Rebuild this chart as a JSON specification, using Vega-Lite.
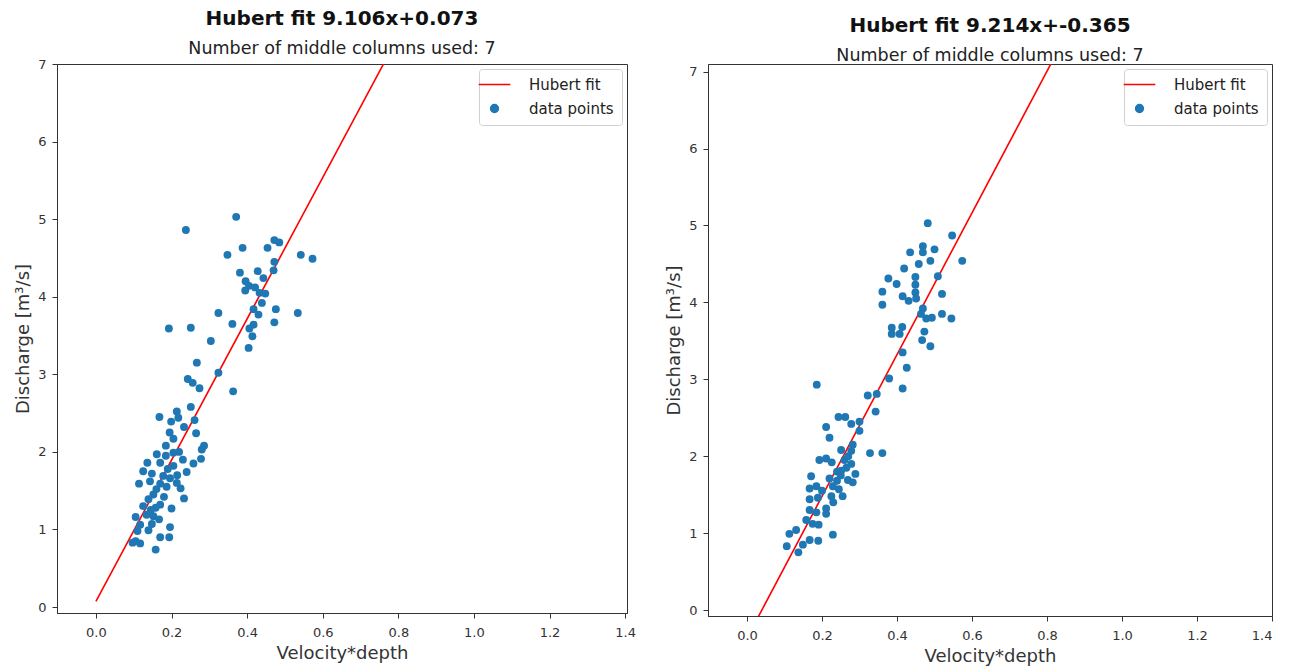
{
  "$schema": "https://vega.github.io/schema/vega-lite/v6.json",
  "background": "white",
  "padding": {"top": 8, "left": 14, "right": 5, "bottom": 0},
  "spacing": 29,
  "datasets": {
    "left_pts": [
      {"x":0.371,"y":5.03},{"x":0.238,"y":4.86},{"x":0.472,"y":4.73},{"x":0.485,"y":4.70},{"x":0.388,"y":4.63},{"x":0.454,"y":4.63},{"x":0.348,"y":4.54},{"x":0.542,"y":4.54},{"x":0.573,"y":4.49},{"x":0.472,"y":4.45},
      {"x":0.381,"y":4.31},{"x":0.428,"y":4.33},{"x":0.470,"y":4.34},{"x":0.443,"y":4.24},{"x":0.396,"y":4.20},{"x":0.405,"y":4.14},{"x":0.395,"y":4.08},{"x":0.421,"y":4.12},{"x":0.433,"y":4.05},{"x":0.448,"y":4.04},
      {"x":0.439,"y":3.92},{"x":0.417,"y":3.84},{"x":0.476,"y":3.84},{"x":0.430,"y":3.77},{"x":0.534,"y":3.79},{"x":0.324,"y":3.79},{"x":0.361,"y":3.65},{"x":0.417,"y":3.64},{"x":0.472,"y":3.67},{"x":0.406,"y":3.59},
      {"x":0.414,"y":3.49},{"x":0.193,"y":3.59},{"x":0.251,"y":3.60},{"x":0.304,"y":3.43},{"x":0.404,"y":3.34},{"x":0.267,"y":3.15},{"x":0.324,"y":3.02},{"x":0.243,"y":2.94},{"x":0.256,"y":2.89},{"x":0.274,"y":2.82},
      {"x":0.363,"y":2.78},{"x":0.251,"y":2.58},{"x":0.214,"y":2.52},{"x":0.168,"y":2.45},{"x":0.199,"y":2.39},{"x":0.218,"y":2.44},{"x":0.261,"y":2.41},{"x":0.233,"y":2.32},{"x":0.265,"y":2.24},{"x":0.205,"y":2.17},
      {"x":0.185,"y":2.08},{"x":0.286,"y":2.08},{"x":0.280,"y":2.03},{"x":0.161,"y":1.97},{"x":0.185,"y":1.95},{"x":0.205,"y":1.99},{"x":0.278,"y":1.91},{"x":0.258,"y":1.85},{"x":0.136,"y":1.86},{"x":0.170,"y":1.86},
      {"x":0.205,"y":1.82},{"x":0.125,"y":1.75},{"x":0.240,"y":1.74},{"x":0.148,"y":1.72},{"x":0.178,"y":1.69},{"x":0.196,"y":1.66},{"x":0.114,"y":1.59},{"x":0.143,"y":1.62},{"x":0.170,"y":1.59},{"x":0.187,"y":1.55},
      {"x":0.214,"y":1.60},{"x":0.224,"y":1.53},{"x":0.233,"y":1.40},{"x":0.152,"y":1.45},{"x":0.139,"y":1.39},{"x":0.170,"y":1.32},{"x":0.158,"y":1.28},{"x":0.200,"y":1.27},{"x":0.105,"y":1.16},{"x":0.134,"y":1.19},
      {"x":0.152,"y":1.17},{"x":0.167,"y":1.13},{"x":0.117,"y":1.06},{"x":0.148,"y":1.07},{"x":0.196,"y":1.03},{"x":0.139,"y":0.99},{"x":0.110,"y":0.98},{"x":0.170,"y":0.90},{"x":0.194,"y":0.90},{"x":0.097,"y":0.83},
      {"x":0.117,"y":0.82},{"x":0.158,"y":0.74},{"x":0.190,"y":1.78},{"x":0.215,"y":1.70},{"x":0.160,"y":1.52},{"x":0.125,"y":1.30},{"x":0.180,"y":1.42},{"x":0.230,"y":1.90},{"x":0.105,"y":0.85},{"x":0.145,"y":1.25},
      {"x":0.220,"y":2.00},{"x":0.195,"y":2.25}
    ],
    "right_pts": [
      {"x":0.482,"y":5.03},{"x":0.547,"y":4.87},{"x":0.435,"y":4.65},{"x":0.469,"y":4.73},{"x":0.469,"y":4.65},{"x":0.500,"y":4.69},{"x":0.458,"y":4.50},{"x":0.489,"y":4.54},{"x":0.574,"y":4.54},{"x":0.419,"y":4.44},
      {"x":0.377,"y":4.31},{"x":0.449,"y":4.33},{"x":0.509,"y":4.34},{"x":0.399,"y":4.24},{"x":0.449,"y":4.23},{"x":0.361,"y":4.14},{"x":0.415,"y":4.08},{"x":0.449,"y":4.13},{"x":0.451,"y":4.05},{"x":0.431,"y":4.02},
      {"x":0.520,"y":4.11},{"x":0.361,"y":3.97},{"x":0.469,"y":3.92},{"x":0.464,"y":3.85},{"x":0.478,"y":3.79},{"x":0.493,"y":3.80},{"x":0.520,"y":3.85},{"x":0.545,"y":3.79},{"x":0.386,"y":3.67},{"x":0.414,"y":3.68},
      {"x":0.386,"y":3.59},{"x":0.407,"y":3.59},{"x":0.473,"y":3.62},{"x":0.467,"y":3.51},{"x":0.489,"y":3.43},{"x":0.415,"y":3.35},{"x":0.426,"y":3.15},{"x":0.379,"y":3.01},{"x":0.415,"y":2.88},{"x":0.186,"y":2.93},
      {"x":0.322,"y":2.79},{"x":0.346,"y":2.81},{"x":0.343,"y":2.58},{"x":0.244,"y":2.51},{"x":0.262,"y":2.51},{"x":0.278,"y":2.42},{"x":0.300,"y":2.45},{"x":0.211,"y":2.38},{"x":0.300,"y":2.33},{"x":0.220,"y":2.24},
      {"x":0.282,"y":2.15},{"x":0.251,"y":2.08},{"x":0.328,"y":2.04},{"x":0.361,"y":2.04},{"x":0.278,"y":2.07},{"x":0.193,"y":1.95},{"x":0.211,"y":1.97},{"x":0.226,"y":1.92},{"x":0.278,"y":1.90},{"x":0.251,"y":1.81},
      {"x":0.265,"y":1.85},{"x":0.289,"y":1.77},{"x":0.171,"y":1.74},{"x":0.220,"y":1.71},{"x":0.240,"y":1.68},{"x":0.269,"y":1.69},{"x":0.282,"y":1.66},{"x":0.167,"y":1.58},{"x":0.185,"y":1.61},{"x":0.229,"y":1.61},
      {"x":0.245,"y":1.57},{"x":0.255,"y":1.48},{"x":0.225,"y":1.48},{"x":0.167,"y":1.44},{"x":0.189,"y":1.46},{"x":0.211,"y":1.32},{"x":0.211,"y":1.25},{"x":0.167,"y":1.30},{"x":0.185,"y":1.27},{"x":0.158,"y":1.17},
      {"x":0.175,"y":1.12},{"x":0.191,"y":1.11},{"x":0.113,"y":0.99},{"x":0.131,"y":1.04},{"x":0.229,"y":0.98},{"x":0.167,"y":0.91},{"x":0.190,"y":0.90},{"x":0.149,"y":0.85},{"x":0.106,"y":0.83},{"x":0.137,"y":0.75},
      {"x":0.240,"y":1.80},{"x":0.260,"y":1.95},{"x":0.200,"y":1.55},{"x":0.230,"y":1.40},{"x":0.250,"y":1.75},{"x":0.270,"y":2.00}
    ],
    "left_line": [{"x":0.0,"y":0.073},{"x":0.9,"y":8.268}],
    "right_line": [{"x":0.0,"y":-0.365},{"x":0.9,"y":7.928}]
  },
  "resolve": {
    "scale": {"x": "independent", "y": "independent", "color": "independent"},
    "legend": {"color": "independent"}
  },
  "hconcat": [
    {
      "width": 570,
      "height": 549,
      "title": {"text": "Hubert fit 9.106x+0.073", "subtitle": "Number of middle columns used: 7", "offset": 1},
      "layer": [
        {
          "data": {"name": "left_line"},
          "mark": {"type": "line", "clip": true, "strokeWidth": 1.6},
          "encoding": {
            "x": {"field": "x", "type": "quantitative", "title": "Velocity*depth",
                  "scale": {"domain": [-0.103, 1.405], "nice": false, "zero": false},
                  "axis": {"values": [0, 0.2, 0.4, 0.6, 0.8, 1.0, 1.2, 1.4], "format": ".1f"}},
            "y": {"field": "y", "type": "quantitative", "title": "Discharge [m³/s]",
                  "scale": {"domain": [-0.077, 7], "nice": false, "zero": false},
                  "axis": {"values": [0, 1, 2, 3, 4, 5, 6, 7], "format": "d"}},
            "color": {"datum": "Hubert fit", "type": "nominal",
                      "scale": {"domain": ["Hubert fit", "data points"], "range": ["#ff0000", "#1f77b4"]},
                      "legend": {
                        "encode": {"symbols": {"update": {
                          "shape": {"signal": "datum.value === 'Hubert fit' ? 'stroke' : 'circle'"},
                          "size": {"signal": "datum.value === 'Hubert fit' ? 1000 : 60"},
                          "fill": {"signal": "datum.value === 'Hubert fit' ? 'transparent' : '#1f77b4'"},
                          "stroke": {"signal": "datum.value === 'Hubert fit' ? '#ff0000' : 'transparent'"},
                          "strokeWidth": {"value": 1.6},
                          "opacity": {"value": 1}
                        }}}
                      }}
          }
        },
        {
          "data": {"name": "left_pts"},
          "mark": {"type": "point", "filled": true, "size": 62, "opacity": 1},
          "encoding": {
            "x": {"field": "x", "type": "quantitative"},
            "y": {"field": "y", "type": "quantitative"},
            "color": {"datum": "data points", "type": "nominal"}
          }
        }
      ]
    },
    {
      "width": 564,
      "height": 552,
      "title": {"text": "Hubert fit 9.214x+-0.365", "subtitle": "Number of middle columns used: 7", "offset": 0},
      "layer": [
        {
          "data": {"name": "right_line"},
          "mark": {"type": "line", "clip": true, "strokeWidth": 1.6},
          "encoding": {
            "x": {"field": "x", "type": "quantitative", "title": "Velocity*depth",
                  "scale": {"domain": [-0.104, 1.4], "nice": false, "zero": false},
                  "axis": {"values": [0, 0.2, 0.4, 0.6, 0.8, 1.0, 1.2, 1.4], "format": ".1f"}},
            "y": {"field": "y", "type": "quantitative", "title": "Discharge [m³/s]",
                  "scale": {"domain": [-0.078, 7.1], "nice": false, "zero": false},
                  "axis": {"values": [0, 1, 2, 3, 4, 5, 6, 7], "format": "d"}},
            "color": {"datum": "Hubert fit", "type": "nominal",
                      "scale": {"domain": ["Hubert fit", "data points"], "range": ["#ff0000", "#1f77b4"]},
                      "legend": {
                        "encode": {"symbols": {"update": {
                          "shape": {"signal": "datum.value === 'Hubert fit' ? 'stroke' : 'circle'"},
                          "size": {"signal": "datum.value === 'Hubert fit' ? 1000 : 60"},
                          "fill": {"signal": "datum.value === 'Hubert fit' ? 'transparent' : '#1f77b4'"},
                          "stroke": {"signal": "datum.value === 'Hubert fit' ? '#ff0000' : 'transparent'"},
                          "strokeWidth": {"value": 1.6},
                          "opacity": {"value": 1}
                        }}}
                      }}
          }
        },
        {
          "data": {"name": "right_pts"},
          "mark": {"type": "point", "filled": true, "size": 62, "opacity": 1},
          "encoding": {
            "x": {"field": "x", "type": "quantitative"},
            "y": {"field": "y", "type": "quantitative"},
            "color": {"datum": "data points", "type": "nominal"}
          }
        }
      ]
    }
  ],
  "config": {
    "font": "DejaVu Sans",
    "view": {"stroke": "#333", "strokeWidth": 1},
    "title": {
      "font": "DejaVu Sans", "fontSize": 20, "fontWeight": "bold", "color": "#111",
      "subtitleFont": "DejaVu Sans", "subtitleFontSize": 17.5, "subtitleColor": "#222",
      "subtitlePadding": 11, "anchor": "middle"
    },
    "axis": {
      "grid": false,
      "labelFont": "DejaVu Sans", "labelFontSize": 13, "labelColor": "#333",
      "titleFont": "DejaVu Sans", "titleFontSize": 18, "titleFontWeight": "normal", "titleColor": "#333",
      "tickColor": "#333", "domainColor": "#333", "tickSize": 5, "labelPadding": 8, "titlePadding": 5
    },
    "axisY": {"labelPadding": 6},
    "legend": {
      "orient": "top-right", "offset": 5, "title": null,
      "fillColor": "white", "strokeColor": "#d0d0d0", "padding": 8, "cornerRadius": 3,
      "labelFont": "DejaVu Sans", "labelFontSize": 15, "labelColor": "#222",
      "rowPadding": 8, "labelOffset": 27
    }
  }
}
